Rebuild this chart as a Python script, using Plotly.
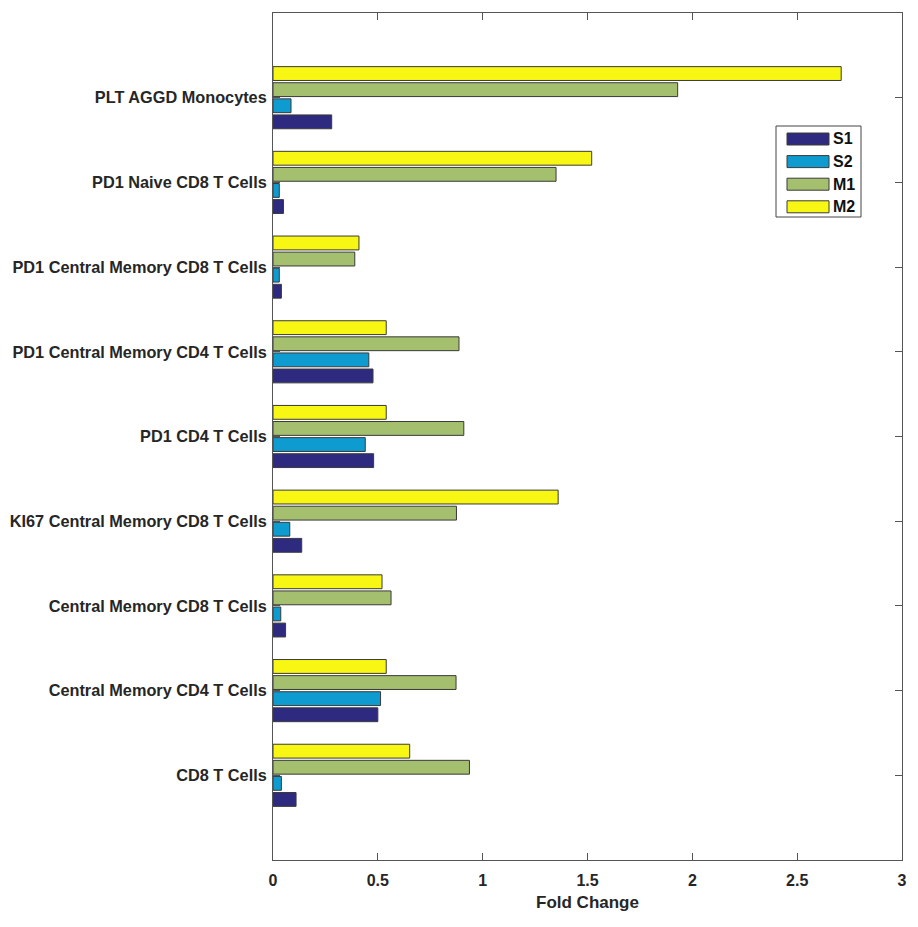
import plotly.graph_objects as go

categories = [
    "CD8 T Cells",
    "Central Memory CD4 T Cells",
    "Central Memory CD8 T Cells",
    "KI67 Central Memory CD8 T Cells",
    "PD1 CD4 T Cells",
    "PD1 Central Memory CD4 T Cells",
    "PD1 Central Memory CD8 T Cells",
    "PD1 Naive CD8 T Cells",
    "PLT AGGD Monocytes",
]
S1 = [0.11, 0.50, 0.06, 0.137, 0.48, 0.477, 0.04, 0.05, 0.28]
S2 = [0.04, 0.513, 0.037, 0.08, 0.44, 0.457, 0.03, 0.03, 0.086]
M1 = [0.937, 0.873, 0.563, 0.875, 0.91, 0.887, 0.39, 1.35, 1.93]
M2 = [0.652, 0.54, 0.52, 1.36, 0.54, 0.54, 0.41, 1.52, 2.71]

series_names = ["S1", "S2", "M1", "M2"]
series_values = [S1, S2, M1, M2]
series_colors = ["#2D2A80", "#0E9BD0", "#A4BF6E", "#F7F713"]
xticks = [0, 0.5, 1, 1.5, 2, 2.5, 3]

ypos = list(range(len(categories)))

W, H = 918, 927
ML, MR, MT, MB = 273, 16, 13, 67
PW, PH = W - ML - MR, H - MT - MB

def px2paper_x(px):
    return (px - ML) / PW

def px2paper_y(py):
    return (H - MB - py) / PH

fig = go.Figure()
for name, vals, col in zip(series_names, series_values, series_colors):
    fig.add_trace(go.Bar(
        x=vals, y=ypos, orientation="h", name=name, showlegend=False,
        marker=dict(color=col, line=dict(color="#3a3a3a", width=1)),
    ))

# manual legend (MATLAB-style wide swatches)
shapes = [dict(type="rect", xref="paper", yref="paper",
               x0=px2paper_x(776), x1=px2paper_x(861),
               y0=px2paper_y(217), y1=px2paper_y(126),
               line=dict(color="#444", width=1), fillcolor="white", layer="above")]
annotations = []
for i, (name, col) in enumerate(zip(series_names, series_colors)):
    top = 133 + i * 22.6
    shapes.append(dict(type="rect", xref="paper", yref="paper",
                       x0=px2paper_x(787), x1=px2paper_x(829),
                       y0=px2paper_y(top + 12), y1=px2paper_y(top),
                       line=dict(color="#3a3a3a", width=1), fillcolor=col, layer="above"))
    annotations.append(dict(xref="paper", yref="paper",
                            x=px2paper_x(831), y=px2paper_y(top + 6),
                            xanchor="left", yanchor="middle", showarrow=False,
                            text=f"<b>{name}</b>",
                            font=dict(size=16, color="#111")))

font_main = "Arial, Liberation Sans, sans-serif"
fig.update_layout(
    width=W, height=H,
    margin=dict(l=ML, r=MR, t=MT, b=MB, autoexpand=False),
    paper_bgcolor="white", plot_bgcolor="white",
    barmode="group", bargap=0.24, bargroupgap=0.14,
    font=dict(family=font_main, size=14, color="#262626"),
    showlegend=False,
    shapes=shapes, annotations=annotations,
    xaxis=dict(
        range=[0, 3], tickvals=xticks, ticktext=[f"{v:g}" for v in xticks],
        ticks="inside", ticklen=7, tickcolor="#555", mirror="ticks",
        showline=True, linecolor="#555", linewidth=1, showgrid=False, zeroline=False,
        tickfont=dict(size=16, color="#262626", family=font_main, weight="bold"),
        ticklabelstandoff=6, automargin=False,
        title=dict(text="Fold Change",
                   font=dict(size=17, color="#262626", family=font_main, weight="bold"),
                   standoff=7),
    ),
    yaxis=dict(
        range=[-1, 9], tickvals=ypos, ticktext=categories,
        ticks="inside", ticklen=7, tickcolor="#555", mirror="ticks",
        showline=True, linecolor="#555", linewidth=1, showgrid=False, zeroline=False,
        tickfont=dict(size=16.3, color="#262626", family=font_main, weight="bold"),
        ticklabelstandoff=2, automargin=False,
    ),
)

fig.write_html("out.html")
